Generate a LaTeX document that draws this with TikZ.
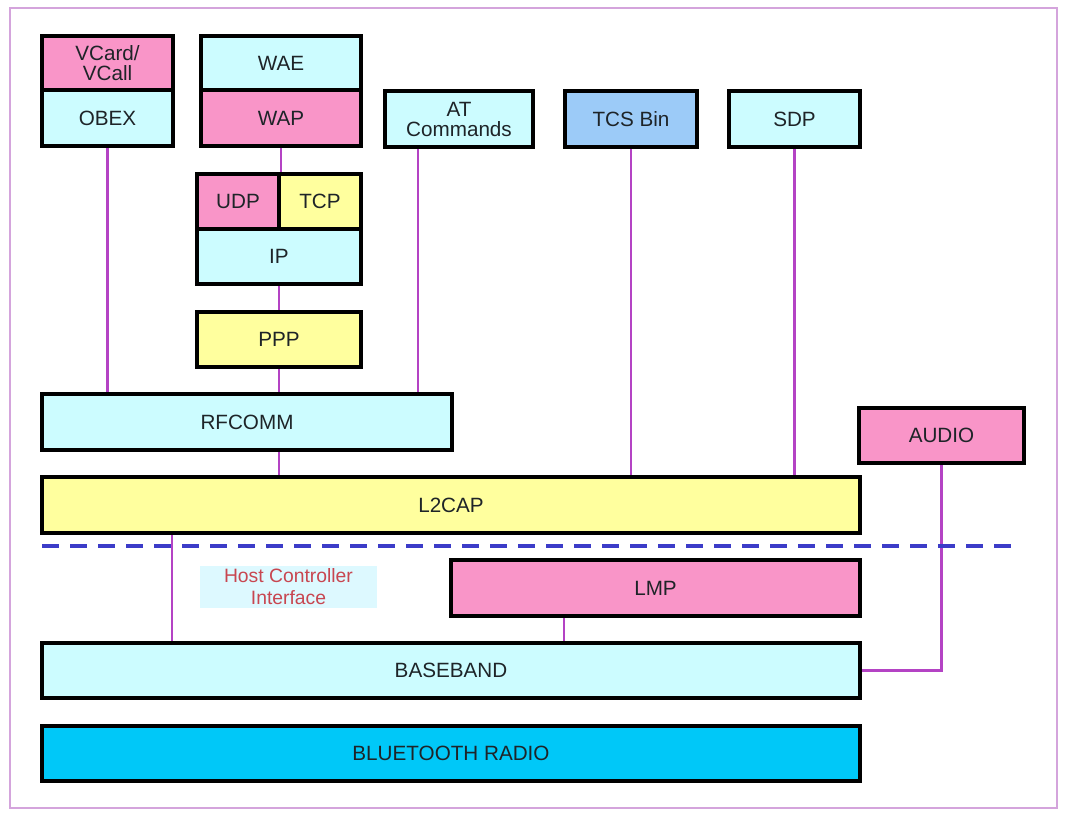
\documentclass[tikz,border=0pt]{standalone}
\usepackage{fontspec}
\setmainfont{Liberation Sans}
\usetikzlibrary{calc,backgrounds}
\definecolor{bpink}{HTML}{F995C8}
\definecolor{bcyan}{HTML}{CCFCFF}
\definecolor{byellow}{HTML}{FFFF9E}
\definecolor{bblue}{HTML}{9CCBF8}
\definecolor{bradio}{HTML}{00C8F8}
\definecolor{conncol}{HTML}{B443C4}
\definecolor{framecol}{HTML}{D4A4DC}
\definecolor{dashcol}{HTML}{3C3CC8}
\definecolor{hcitext}{HTML}{C84650}
\definecolor{hcifill}{HTML}{DDF9FF}
\definecolor{txt}{HTML}{1E2428}
\tikzset{
  box/.style={draw=black, line width=3pt, inner sep=0pt, align=center,
    font=\fontsize{15.5}{17}\selectfont, text=txt},
  conn/.style={draw=conncol, line width=1.9pt},
}
\newcommand\bx[7]{\node[box,fill=#6,minimum width={(#4-#2)*0.75pt},minimum height={(#5-#3)*0.75pt}] (#1) at ({(#2+#4)/2},{(#3+#5)/2}) {#7};}
\begin{document}
\begin{tikzpicture}[x=0.75pt,y=-0.75pt]
\useasboundingbox (0,0) rectangle (1068,816);

% boxes
\bx{vcard}{42}{36}{173}{90}{bpink}{VCard/\\[-2pt]VCall}
\bx{obex}{42}{90}{173}{146}{bcyan}{OBEX}
\bx{wae}{201}{36}{361}{90}{bcyan}{WAE}
\bx{wap}{201}{90}{361}{146}{bpink}{WAP}
\bx{at}{385}{91}{533}{147}{bcyan}{AT\\[-2pt]Commands}
\bx{tcs}{565}{91}{697}{147}{bblue}{TCS Bin}
\bx{sdp}{729}{91}{860}{147}{bcyan}{SDP}
\bx{udp}{197}{174}{279}{229}{bpink}{UDP}
\bx{tcp}{279}{174}{361}{229}{byellow}{TCP}
\bx{ip}{197}{229}{361}{284}{bcyan}{IP}
\bx{ppp}{197}{312}{361}{367}{byellow}{PPP}
\bx{rfcomm}{42}{394}{452}{450}{bcyan}{RFCOMM}
\bx{audio}{859}{408}{1024}{463}{bpink}{AUDIO}
\bx{l2cap}{42}{477}{860}{533}{byellow}{L2CAP}
\bx{lmp}{451}{560}{860}{616}{bpink}{LMP}
\bx{baseband}{42}{643}{860}{698}{bcyan}{BASEBAND}
\bx{radio}{42}{726}{860}{781}{bradio}{BLUETOOTH RADIO}

% dashed boundary
\coordinate (dashL) at (42,546);
\coordinate (dashR) at (1015,546);
\draw[dashcol, line width=2.4pt, dash pattern=on 13pt off 8pt] (dashL) -- (dashR);

% HCI label
\node[fill=hcifill, text=hcitext, inner sep=0pt, minimum width={177*0.75pt}, minimum height={42*0.75pt}, align=center, font=\fontsize{14.5}{16.5}\selectfont] (hci) at (288.5,587) {Host Controller\\Interface};

% connectors (behind the boxes)
\begin{pgfonlayer}{background}
\fill[white] (0,0) rectangle (1068,816);
\draw[framecol, line width=1.6pt] (10,8) rectangle (1057,808);
\draw[conn] (obex.center) -- (obex.center |- rfcomm.center);
\draw[conn] (wap.center) -- (wap.center |- tcp.center);
\draw[conn] (ip.center) -- (ppp.center);
\draw[conn] (ppp.center) -- (ppp.center |- rfcomm.center);
\draw[conn] ($(at.center)+(-41,0)$) coordinate (atc) -- (atc |- rfcomm.center);
\draw[conn] (ppp.center |- rfcomm.center) -- (ppp.center |- l2cap.center);
\draw[conn] (tcs.center) -- (tcs.center |- l2cap.center);
\draw[conn] (sdp.center) -- (sdp.center |- l2cap.center);
\draw[conn] ($(l2cap.center -| l2cap.west)+(132,0)$) coordinate (l2c) -- (l2c |- baseband.center);
\draw[conn] ($(lmp.center -| lmp.west)+(115,0)$) coordinate (lmpc) -- (lmpc |- baseband.center);
\draw[conn] (audio.center) |- (baseband.center);
\end{pgfonlayer}
\end{tikzpicture}
\end{document}
